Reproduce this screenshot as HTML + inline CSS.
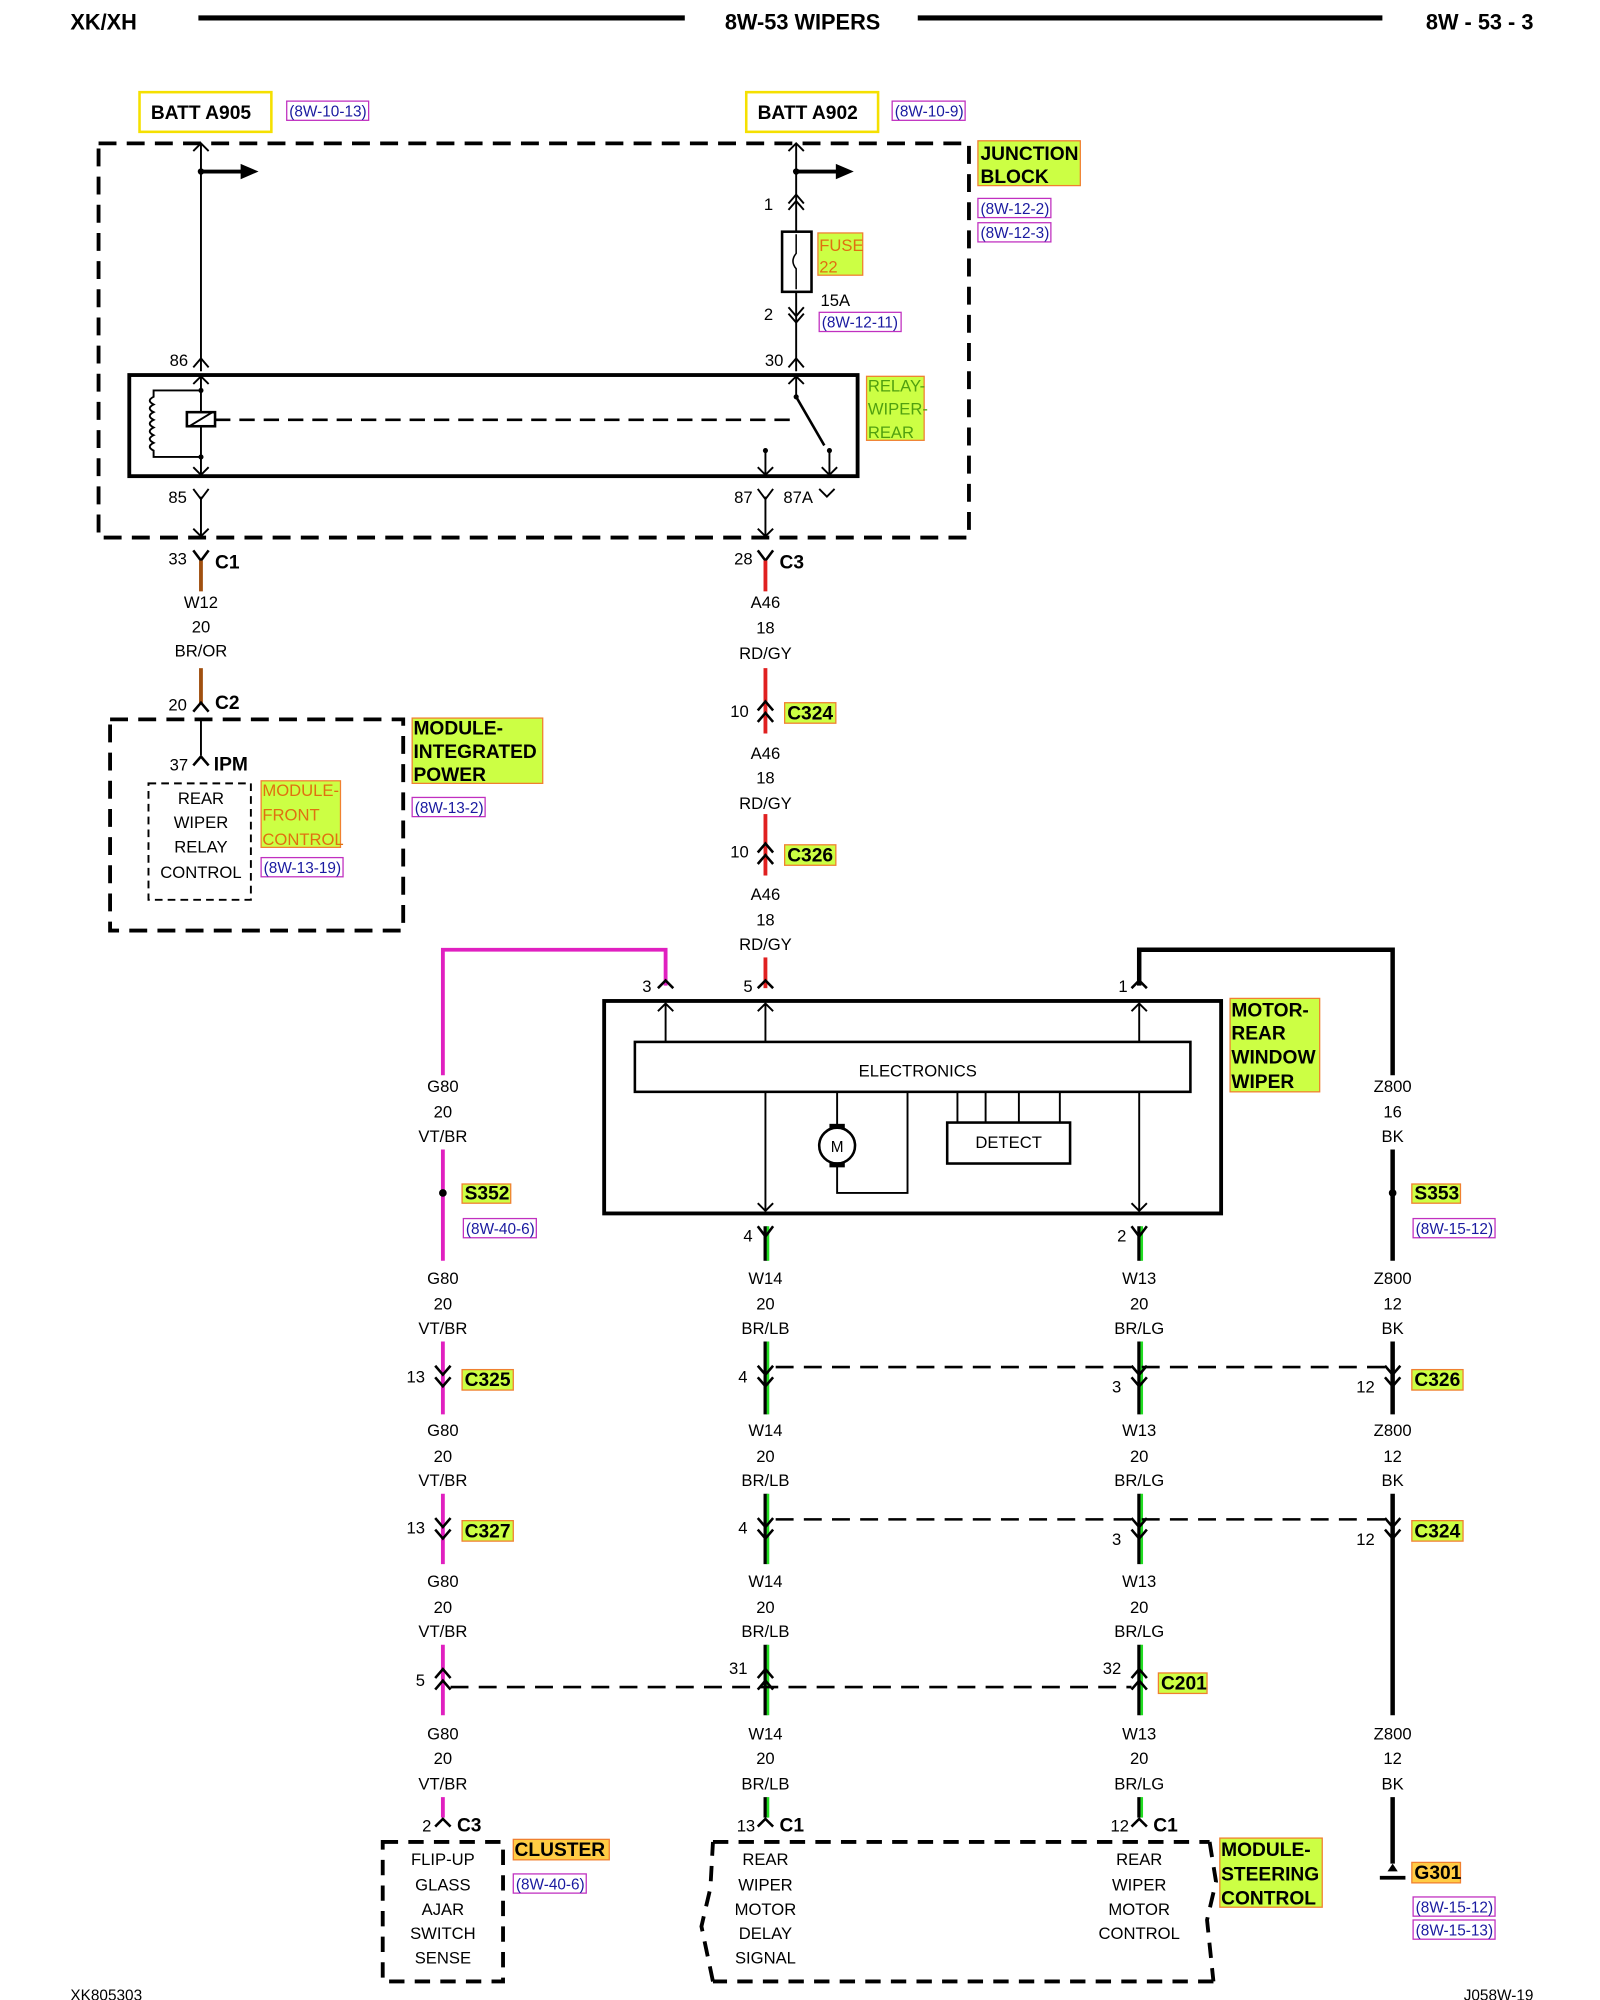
<!DOCTYPE html>
<html><head><meta charset="utf-8"><style>
html,body{margin:0;padding:0;background:#fff}
svg{display:block}
text{font-family:"Liberation Sans",sans-serif;fill:#000}
.s{font-size:13px}
.b{font-weight:bold}
.m{text-anchor:middle}
.e{text-anchor:end}
.ref{font-size:12px;fill:#1a1aa0}
.lb{font-size:15px;font-weight:bold}
</style></head><body>
<svg width="1600" height="2000" viewBox="0 0 1250 1562.5" xmlns="http://www.w3.org/2000/svg">
<defs>
<path id="dn" d="M-6,-8 L0,-1 L6,-8 M-6,1 L0,8 L6,1" fill="none" stroke="#000" stroke-width="2"/>
<path id="up" d="M-6,8 L0,1 L6,8 M-6,-1 L0,-8 L6,-1" fill="none" stroke="#000" stroke-width="2"/>
<path id="yv" d="M-6,-8 L0,0 L6,-8" fill="none" stroke="#000" stroke-width="2"/>
<path id="ca" d="M-6,6 L0,0 L6,6" fill="none" stroke="#000" stroke-width="2"/>
</defs>
<!-- header -->
<text x="55" y="23" class="b" font-size="17">XK/XH</text>
<line x1="155" y1="14" x2="535" y2="14" stroke="#000" stroke-width="4"/>
<text x="627" y="23" class="b m" font-size="17">8W-53 WIPERS</text>
<line x1="717" y1="14" x2="1080" y2="14" stroke="#000" stroke-width="4"/>
<text x="1198" y="23" class="b e" font-size="17">8W - 53 - 3</text>

<!-- batt -->
<rect x="109" y="72" width="103" height="31" fill="#fff" stroke="#f5e000" stroke-width="2"/>
<text x="157" y="93" class="m b" font-size="15">BATT A905</text>
<rect x="224" y="79" width="64" height="15" fill="none" stroke="#c030c0"/><text x="226" y="91" class="ref">(8W-10-13)</text>
<rect x="583" y="72" width="103" height="31" fill="#fff" stroke="#f5e000" stroke-width="2"/>
<text x="631" y="93" class="m b" font-size="15">BATT A902</text>
<rect x="697" y="79" width="57" height="15" fill="none" stroke="#c030c0"/><text x="699" y="91" class="ref">(8W-10-9)</text>

<!-- junction block -->
<rect x="77" y="112" width="680" height="308" fill="none" stroke="#000" stroke-width="3" stroke-dasharray="14,8"/>
<rect x="764" y="110" width="80" height="35" fill="#ccff44" stroke="#f08030"/>
<text x="766" y="125" class="lb">JUNCTION</text><text x="766" y="143" class="lb">BLOCK</text>
<rect x="764" y="155" width="57" height="15" fill="none" stroke="#c030c0"/><text x="766" y="167" class="ref">(8W-12-2)</text>
<rect x="764" y="174" width="57" height="15" fill="none" stroke="#c030c0"/><text x="766" y="186" class="ref">(8W-12-3)</text>

<g stroke="#000" stroke-width="1.5" fill="none">
<line x1="157" y1="112" x2="157" y2="290"/>
<path d="M151,118 L157,112 L163,118"/>
<line x1="622" y1="112" x2="622" y2="181"/>
<path d="M616,118 L622,112 L628,118"/>
<line x1="622" y1="228" x2="622" y2="290"/>
<path d="M151,287 L157,280 L163,287 M616,287 L622,280 L628,287"/>
<path d="M616,159 L622,152 L628,159 M616,164 L622,157 L628,164"/>
<path d="M616,240 L622,247 L628,240 M616,245 L622,252 L628,245"/>
</g>
<line x1="157" y1="134" x2="190" y2="134" stroke="#000" stroke-width="3"/><path d="M188,128 L202,134 L188,140Z"/>
<line x1="622" y1="134" x2="655" y2="134" stroke="#000" stroke-width="3"/><path d="M653,128 L667,134 L653,140Z"/>
<circle cx="157" cy="134" r="2.5"/><circle cx="622" cy="134" r="2.5"/>
<rect x="611" y="181" width="23" height="47" fill="#fff" stroke="#000" stroke-width="2"/>
<path d="M622,183 L622,198 Q617,204 622,210 L622,226" fill="none" stroke="#000" stroke-width="1.2"/>
<rect x="639" y="182" width="35" height="33" fill="#ccff44" stroke="#f08030"/>
<text x="640" y="196" class="s" fill="#e07010" style="fill:#e07010">FUSE</text><text x="640" y="213" class="s" style="fill:#e07010">22</text>
<text x="604" y="164" class="s e">1</text>
<text x="604" y="250" class="s e">2</text>
<text x="641" y="239" class="s">15A</text>
<rect x="640" y="244" width="64" height="15" fill="none" stroke="#c030c0"/><text x="642" y="256" class="ref">(8W-12-11)</text>
<text x="147" y="286" class="s e">86</text><text x="612" y="286" class="s e">30</text>

<!-- relay -->
<rect x="101" y="293" width="569" height="79" fill="none" stroke="#000" stroke-width="3"/>
<g stroke="#000" stroke-width="1.5" fill="none">
<line x1="157" y1="293" x2="157" y2="372"/>
<path d="M151,300 L157,294 L163,300 M151,365 L157,371 L163,365"/>
<path d="M157,305 L120,305 L120,310 Q114,313 120,316 Q114,319 120,322 Q114,325 120,328 Q114,331 120,334 Q114,337 120,340 Q114,343 120,346 Q114,349 120,352 L120,357 L157,357"/>
<rect x="146" y="322" width="22" height="11" fill="#fff" stroke-width="2"/>
<line x1="148" y1="333" x2="166" y2="322"/>
<line x1="168" y1="328" x2="620" y2="328" stroke-width="2" stroke-dasharray="12,7"/>
<line x1="622" y1="293" x2="622" y2="310"/>
<path d="M616,300 L622,294 L628,300"/>
<line x1="622" y1="310" x2="644" y2="348" stroke-width="2"/>
<line x1="598" y1="352" x2="598" y2="372"/>
<line x1="648" y1="352" x2="648" y2="372"/>
<path d="M592,365 L598,371 L604,365 M642,365 L648,371 L654,365"/>
<line x1="157" y1="388" x2="157" y2="420"/><line x1="598" y1="388" x2="598" y2="420"/>
<path d="M151,382 L157,390 L163,382 M592,382 L598,390 L604,382 M640,382 L646,388 L652,382"/>
<path d="M151,413 L157,419 L163,413 M592,413 L598,419 L604,413"/>
</g>
<circle cx="157" cy="305" r="2"/><circle cx="157" cy="357" r="2"/><circle cx="622" cy="310" r="2"/><circle cx="598" cy="352" r="2"/><circle cx="648" cy="352" r="2"/>
<rect x="677" y="294" width="45" height="50" fill="#ccff44" stroke="#f08030"/>
<text x="678" y="306" class="s" style="fill:#50a010">RELAY-</text><text x="678" y="324" class="s" style="fill:#50a010">WIPER-</text><text x="678" y="342" class="s" style="fill:#50a010">REAR</text>
<text x="146" y="393" class="s e">85</text><text x="588" y="393" class="s e">87</text><text x="612" y="393" class="s">87A</text>

<!-- C1/C3 -->
<path d="M151,430 L157,438 L163,430 M592,430 L598,438 L604,430" fill="none" stroke="#000" stroke-width="2"/>
<line x1="157" y1="438" x2="157" y2="462" stroke="#a05010" stroke-width="3"/>
<line x1="598" y1="438" x2="598" y2="462" stroke="#e02020" stroke-width="3"/>
<text x="146" y="441" class="s e">33</text><text x="168" y="444" class="lb">C1</text>
<text x="588" y="441" class="s e">28</text><text x="609" y="444" class="lb">C3</text>
<g class="s m">
<text x="157" y="475" class="s m">W12</text><text x="157" y="494" class="s m">20</text><text x="157" y="513" class="s m">BR/OR</text>
<text x="598" y="475" class="s m">A46</text><text x="598" y="495" class="s m">18</text><text x="598" y="515" class="s m">RD/GY</text>
<text x="598" y="593" class="s m">A46</text><text x="598" y="612" class="s m">18</text><text x="598" y="632" class="s m">RD/GY</text>
<text x="598" y="703" class="s m">A46</text><text x="598" y="723" class="s m">18</text><text x="598" y="742" class="s m">RD/GY</text>
</g>
<line x1="157" y1="522" x2="157" y2="550" stroke="#a05010" stroke-width="3"/>
<path d="M151,556 L157,549 L163,556" fill="none" stroke="#000" stroke-width="2"/>
<text x="146" y="555" class="s e">20</text><text x="168" y="554" class="lb">C2</text>
<!-- red wire segments -->
<line x1="598" y1="522" x2="598" y2="573" stroke="#e02020" stroke-width="3"/>
<line x1="598" y1="636" x2="598" y2="684" stroke="#e02020" stroke-width="3"/>
<line x1="598" y1="748" x2="598" y2="772" stroke="#e02020" stroke-width="3"/>
<use href="#up" x="598" y="556"/><use href="#up" x="598" y="667"/>
<text x="585" y="560" class="s e">10</text><text x="585" y="670" class="s e">10</text>
<rect x="613" y="549" width="40" height="16" fill="#ccff44" stroke="#f08030"/><text x="615" y="562" class="lb" font-size="14">C324</text>
<rect x="613" y="660" width="40" height="16" fill="#ccff44" stroke="#f08030"/><text x="615" y="673" class="lb" font-size="14">C326</text>

<!-- IPM -->
<rect x="86" y="562" width="229" height="165" fill="none" stroke="#000" stroke-width="3" stroke-dasharray="14,8"/>
<line x1="157" y1="562" x2="157" y2="590" stroke="#000" stroke-width="1.5"/>
<path d="M151,598 L157,591 L163,598" fill="none" stroke="#000" stroke-width="2"/>
<text x="147" y="602" class="s e">37</text><text x="167" y="602" class="lb">IPM</text>
<rect x="116" y="612" width="80" height="91" fill="none" stroke="#000" stroke-width="1.5" stroke-dasharray="6,4"/>
<text x="157" y="628" class="s m">REAR</text><text x="157" y="647" class="s m">WIPER</text><text x="157" y="666" class="s m">RELAY</text><text x="157" y="686" class="s m">CONTROL</text>
<rect x="204" y="610" width="62" height="52" fill="#ccff44" stroke="#f08030"/>
<text x="205" y="622" class="s" style="fill:#e07010">MODULE-</text><text x="205" y="641" class="s" style="fill:#e07010">FRONT</text><text x="205" y="660" class="s" style="fill:#e07010">CONTROL</text>
<rect x="204" y="670" width="64" height="15" fill="none" stroke="#c030c0"/><text x="206" y="682" class="ref">(8W-13-19)</text>
<rect x="322" y="561" width="102" height="51" fill="#ccff44" stroke="#f08030"/>
<text x="323" y="574" class="lb">MODULE-</text><text x="323" y="592" class="lb">INTEGRATED</text><text x="323" y="610" class="lb">POWER</text>
<rect x="322" y="623" width="57" height="15" fill="none" stroke="#c030c0"/><text x="324" y="635" class="ref">(8W-13-2)</text>

<!-- top of motor wires -->
<polyline points="520,770 520,742 346,742 346,840" fill="none" stroke="#e020c0" stroke-width="3"/>
<polyline points="890,770 890,742 1088,742 1088,840" fill="none" stroke="#000" stroke-width="3.5"/>
<use href="#ca" x="520" y="766"/><use href="#ca" x="598" y="766"/><use href="#ca" x="890" y="766"/>
<text x="509" y="775" class="s e">3</text><text x="588" y="775" class="s e">5</text><text x="881" y="775" class="s e">1</text>

<!-- motor box -->
<rect x="472" y="782" width="482" height="166" fill="none" stroke="#000" stroke-width="3"/>
<rect x="496" y="814" width="434" height="39" fill="none" stroke="#000" stroke-width="2"/>
<text x="717" y="841" class="s m">ELECTRONICS</text>
<g stroke="#000" stroke-width="1.5" fill="none">
<line x1="520" y1="784" x2="520" y2="814"/><line x1="598" y1="784" x2="598" y2="814"/><line x1="890" y1="784" x2="890" y2="814"/>
<path d="M514,790 L520,784 L526,790 M592,790 L598,784 L604,790 M884,790 L890,784 L896,790"/>
<line x1="598" y1="853" x2="598" y2="946"/><line x1="890" y1="853" x2="890" y2="946"/>
<path d="M592,940 L598,946 L604,940 M884,940 L890,946 L896,940"/>
<polyline points="654,853 654,881"/><polyline points="654,909 654,932 709,932 709,853"/>
<line x1="748" y1="853" x2="748" y2="877"/><line x1="770" y1="853" x2="770" y2="877"/><line x1="796" y1="853" x2="796" y2="877"/><line x1="828" y1="853" x2="828" y2="877"/>
</g>
<circle cx="654" cy="895" r="14" fill="#fff" stroke="#000" stroke-width="2"/>
<rect x="648" y="878" width="12" height="4"/><rect x="648" y="908" width="12" height="4"/>
<text x="654" y="900" class="m" font-size="12">M</text>
<rect x="740" y="877" width="96" height="32" fill="#fff" stroke="#000" stroke-width="2"/>
<text x="788" y="897" class="s m">DETECT</text>
<rect x="961" y="780" width="70" height="73" fill="#ccff44" stroke="#f08030"/>
<text x="962" y="794" class="lb">MOTOR-</text><text x="962" y="812" class="lb">REAR</text><text x="962" y="831" class="lb">WINDOW</text><text x="962" y="850" class="lb">WIPER</text>

<!-- column labels -->
<g>
<text x="346" y="853" class="s m">G80</text><text x="346" y="873" class="s m">20</text><text x="346" y="892" class="s m">VT/BR</text>
<text x="1088" y="853" class="s m">Z800</text><text x="1088" y="873" class="s m">16</text><text x="1088" y="892" class="s m">BK</text>
<text x="346" y="1003" class="s m">G80</text><text x="346" y="1023" class="s m">20</text><text x="346" y="1042" class="s m">VT/BR</text>
<text x="598" y="1003" class="s m">W14</text><text x="598" y="1023" class="s m">20</text><text x="598" y="1042" class="s m">BR/LB</text>
<text x="890" y="1003" class="s m">W13</text><text x="890" y="1023" class="s m">20</text><text x="890" y="1042" class="s m">BR/LG</text>
<text x="1088" y="1003" class="s m">Z800</text><text x="1088" y="1023" class="s m">12</text><text x="1088" y="1042" class="s m">BK</text>
<text x="346" y="1122" class="s m">G80</text><text x="346" y="1142" class="s m">20</text><text x="346" y="1161" class="s m">VT/BR</text>
<text x="598" y="1122" class="s m">W14</text><text x="598" y="1142" class="s m">20</text><text x="598" y="1161" class="s m">BR/LB</text>
<text x="890" y="1122" class="s m">W13</text><text x="890" y="1142" class="s m">20</text><text x="890" y="1161" class="s m">BR/LG</text>
<text x="1088" y="1122" class="s m">Z800</text><text x="1088" y="1142" class="s m">12</text><text x="1088" y="1161" class="s m">BK</text>
<text x="346" y="1240" class="s m">G80</text><text x="346" y="1260" class="s m">20</text><text x="346" y="1279" class="s m">VT/BR</text>
<text x="598" y="1240" class="s m">W14</text><text x="598" y="1260" class="s m">20</text><text x="598" y="1279" class="s m">BR/LB</text>
<text x="890" y="1240" class="s m">W13</text><text x="890" y="1260" class="s m">20</text><text x="890" y="1279" class="s m">BR/LG</text>
<text x="346" y="1359" class="s m">G80</text><text x="346" y="1378" class="s m">20</text><text x="346" y="1398" class="s m">VT/BR</text>
<text x="598" y="1359" class="s m">W14</text><text x="598" y="1378" class="s m">20</text><text x="598" y="1398" class="s m">BR/LB</text>
<text x="890" y="1359" class="s m">W13</text><text x="890" y="1378" class="s m">20</text><text x="890" y="1398" class="s m">BR/LG</text>
<text x="1088" y="1359" class="s m">Z800</text><text x="1088" y="1378" class="s m">12</text><text x="1088" y="1398" class="s m">BK</text>
</g>

<!-- magenta wire segments -->
<g stroke="#e020c0" stroke-width="3">
<line x1="346" y1="898" x2="346" y2="985"/>
<line x1="346" y1="1048" x2="346" y2="1105"/>
<line x1="346" y1="1167" x2="346" y2="1222"/>
<line x1="346" y1="1285" x2="346" y2="1340"/>
<line x1="346" y1="1404" x2="346" y2="1420"/>
</g>
<!-- green wires (black + green stripe) -->
<g stroke-width="3">
<line x1="598" y1="958" x2="598" y2="985" stroke="#000"/><line x1="600" y1="958" x2="600" y2="985" stroke="#22dd22" stroke-width="2"/>
<line x1="890" y1="958" x2="890" y2="985" stroke="#000"/><line x1="892" y1="958" x2="892" y2="985" stroke="#22dd22" stroke-width="2"/>
<line x1="598" y1="1048" x2="598" y2="1105" stroke="#000"/><line x1="600" y1="1048" x2="600" y2="1105" stroke="#22dd22" stroke-width="2"/>
<line x1="890" y1="1048" x2="890" y2="1105" stroke="#000"/><line x1="892" y1="1048" x2="892" y2="1105" stroke="#22dd22" stroke-width="2"/>
<line x1="598" y1="1167" x2="598" y2="1222" stroke="#000"/><line x1="600" y1="1167" x2="600" y2="1222" stroke="#22dd22" stroke-width="2"/>
<line x1="890" y1="1167" x2="890" y2="1222" stroke="#000"/><line x1="892" y1="1167" x2="892" y2="1222" stroke="#22dd22" stroke-width="2"/>
<line x1="598" y1="1285" x2="598" y2="1340" stroke="#000"/><line x1="600" y1="1285" x2="600" y2="1340" stroke="#22dd22" stroke-width="2"/>
<line x1="890" y1="1285" x2="890" y2="1340" stroke="#000"/><line x1="892" y1="1285" x2="892" y2="1340" stroke="#22dd22" stroke-width="2"/>
<line x1="598" y1="1404" x2="598" y2="1420" stroke="#000"/><line x1="600" y1="1404" x2="600" y2="1420" stroke="#22dd22" stroke-width="2"/>
<line x1="890" y1="1404" x2="890" y2="1420" stroke="#000"/><line x1="892" y1="1404" x2="892" y2="1420" stroke="#22dd22" stroke-width="2"/>
</g>
<!-- black right wire -->
<g stroke="#000" stroke-width="3.5">
<line x1="1088" y1="898" x2="1088" y2="985"/>
<line x1="1088" y1="1048" x2="1088" y2="1105"/>
<line x1="1088" y1="1167" x2="1088" y2="1340"/>
<line x1="1088" y1="1404" x2="1088" y2="1456"/>
</g>
<!-- pins 4 & 2 below motor -->
<use href="#yv" x="598" y="966"/><use href="#yv" x="890" y="966"/>
<text x="588" y="970" class="s e">4</text><text x="880" y="970" class="s e">2</text>
<!-- splices -->
<circle cx="346" cy="932" r="3"/><circle cx="1088" cy="932" r="3"/>
<rect x="361" y="925" width="38" height="15" fill="#ccff44" stroke="#f08030"/><text x="363" y="937" class="lb" font-size="14">S352</text>
<rect x="362" y="952" width="57" height="15" fill="none" stroke="#c030c0"/><text x="364" y="964" class="ref">(8W-40-6)</text>
<rect x="1103" y="925" width="38" height="15" fill="#ccff44" stroke="#f08030"/><text x="1105" y="937" class="lb" font-size="14">S353</text>
<rect x="1104" y="952" width="64" height="15" fill="none" stroke="#c030c0"/><text x="1106" y="964" class="ref">(8W-15-12)</text>

<!-- C325/C326 row -->
<line x1="606" y1="1068" x2="1082" y2="1068" stroke="#000" stroke-width="2" stroke-dasharray="14,8"/>
<use href="#dn" x="346" y="1075"/><use href="#dn" x="598" y="1075"/><use href="#dn" x="890" y="1075"/><use href="#dn" x="1088" y="1075"/>
<text x="332" y="1080" class="s e">13</text><text x="584" y="1080" class="s e">4</text><text x="876" y="1088" class="s e">3</text><text x="1074" y="1088" class="s e">12</text>
<rect x="361" y="1070" width="40" height="16" fill="#ccff44" stroke="#f08030"/><text x="363" y="1083" class="lb" font-size="14">C325</text>
<rect x="1103" y="1070" width="40" height="16" fill="#ccff44" stroke="#f08030"/><text x="1105" y="1083" class="lb" font-size="14">C326</text>
<!-- C327/C324 row -->
<line x1="606" y1="1187" x2="1082" y2="1187" stroke="#000" stroke-width="2" stroke-dasharray="14,8"/>
<use href="#dn" x="346" y="1194"/><use href="#dn" x="598" y="1194"/><use href="#dn" x="890" y="1194"/><use href="#dn" x="1088" y="1194"/>
<text x="332" y="1198" class="s e">13</text><text x="584" y="1198" class="s e">4</text><text x="876" y="1207" class="s e">3</text><text x="1074" y="1207" class="s e">12</text>
<rect x="361" y="1188" width="40" height="16" fill="#ccff44" stroke="#f08030"/><text x="363" y="1201" class="lb" font-size="14">C327</text>
<rect x="1103" y="1188" width="40" height="16" fill="#ccff44" stroke="#f08030"/><text x="1105" y="1201" class="lb" font-size="14">C324</text>
<!-- C201 -->
<line x1="352" y1="1318" x2="884" y2="1318" stroke="#000" stroke-width="2" stroke-dasharray="14,8"/>
<use href="#up" x="346" y="1312"/><use href="#up" x="598" y="1312"/><use href="#up" x="890" y="1312"/>
<text x="332" y="1317" class="s e">5</text><text x="584" y="1308" class="s e">31</text><text x="876" y="1308" class="s e">32</text>
<rect x="905" y="1307" width="38" height="16" fill="#ccff44" stroke="#f08030"/><text x="907" y="1320" class="lb" font-size="14">C201</text>

<!-- bottom connectors -->
<use href="#ca" x="346" y="1421"/><use href="#ca" x="598" y="1421"/><use href="#ca" x="890" y="1421"/>
<text x="337" y="1431" class="s e">2</text><text x="590" y="1431" class="s e">13</text><text x="882" y="1431" class="s e">12</text>
<text x="357" y="1431" class="lb">C3</text><text x="609" y="1431" class="lb">C1</text><text x="901" y="1431" class="lb">C1</text>
<!-- cluster -->
<rect x="299" y="1439" width="94" height="109" fill="none" stroke="#000" stroke-width="3" stroke-dasharray="12,8"/>
<text x="346" y="1457" class="s m">FLIP-UP</text><text x="346" y="1477" class="s m">GLASS</text><text x="346" y="1496" class="s m">AJAR</text><text x="346" y="1515" class="s m">SWITCH</text><text x="346" y="1534" class="s m">SENSE</text>
<rect x="401" y="1437" width="75" height="16" fill="#ffcc44" stroke="#f08030"/><text x="402" y="1450" class="lb" fill="#000">CLUSTER</text>
<rect x="401" y="1464" width="57" height="15" fill="none" stroke="#c030c0"/><text x="403" y="1476" class="ref">(8W-40-6)</text>
<!-- steering module -->
<path d="M557,1439 L945,1439 M945,1439 L950,1470 L943,1500 L948,1548 M948,1548 L557,1548 M557,1548 L548,1505 L555,1475 L557,1439" fill="none" stroke="#000" stroke-width="3" stroke-dasharray="12,8"/>
<text x="598" y="1457" class="s m">REAR</text><text x="598" y="1477" class="s m">WIPER</text><text x="598" y="1496" class="s m">MOTOR</text><text x="598" y="1515" class="s m">DELAY</text><text x="598" y="1534" class="s m">SIGNAL</text>
<text x="890" y="1457" class="s m">REAR</text><text x="890" y="1477" class="s m">WIPER</text><text x="890" y="1496" class="s m">MOTOR</text><text x="890" y="1515" class="s m">CONTROL</text>
<rect x="953" y="1436" width="80" height="54" fill="#ccff44" stroke="#f08030"/>
<text x="954" y="1450" class="lb">MODULE-</text><text x="954" y="1469" class="lb">STEERING</text><text x="954" y="1488" class="lb">CONTROL</text>
<!-- ground -->
<line x1="1078" y1="1467" x2="1098" y2="1467" stroke="#000" stroke-width="3"/>
<path d="M1084,1462 L1088,1456 L1092,1462Z"/>
<rect x="1103" y="1455" width="38" height="16" fill="#ffcc44" stroke="#f08030"/><text x="1105" y="1468" class="lb" font-size="14">G301</text>
<rect x="1104" y="1482" width="64" height="15" fill="none" stroke="#c030c0"/><text x="1106" y="1494" class="ref">(8W-15-12)</text>
<rect x="1104" y="1500" width="64" height="15" fill="none" stroke="#c030c0"/><text x="1106" y="1512" class="ref">(8W-15-13)</text>

<text x="55" y="1563" font-size="12">XK805303</text>
<text x="1198" y="1563" font-size="12" class="e">J058W-19</text>
</svg>
</body></html>
